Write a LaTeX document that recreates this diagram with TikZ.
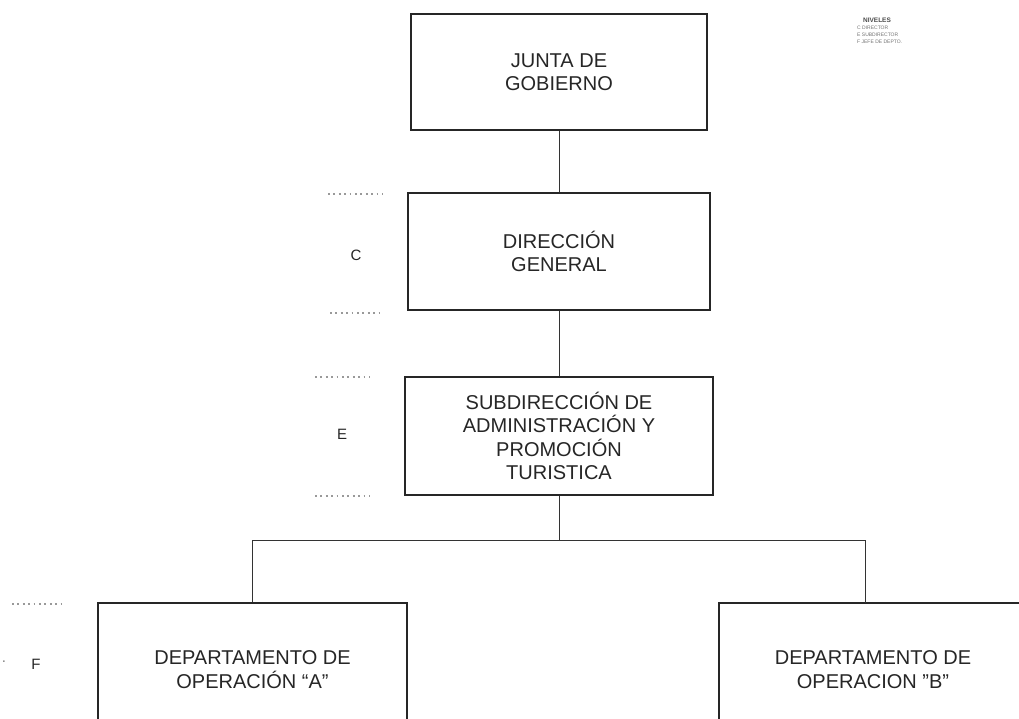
\documentclass[tikz,border=0pt]{standalone}
\usepackage{fontspec}
\setmainfont{Liberation Sans}[Ligatures=Common]
\begin{document}
\begin{tikzpicture}[x=1pt,y=-1pt,
  box/.style={draw=black!85, line width=1.8pt, align=center, inner sep=0pt,
    font=\fontsize{20}{23.5}\selectfont, text=black!85},
  conn/.style={draw=black!80, line width=1pt},
  dotline/.style={draw=black!40, line width=1.3pt, dash pattern=on 1.8pt off 3.6pt},
  lvl/.style={font=\fontsize{15}{17}\selectfont, text=black!85},
  legtitle/.style={font=\fontsize{6.5}{7}\selectfont\bfseries, text=black!70, inner sep=0pt},
  legitem/.style={font=\fontsize{5}{6}\selectfont, text=black!55, inner sep=0pt, anchor=west}]
\useasboundingbox (0,0) rectangle (1019,719);
\fill[white] (0,0) rectangle (1019,719);

% boxes
\node[box, minimum width=296pt, minimum height=116pt] (junta) at (559,72) {JUNTA DE\\GOBIERNO};
\node[box, minimum width=302pt, minimum height=117pt] (dir) at (559,251.5) {DIRECCIÓN\\GENERAL};
\node[box, minimum width=308pt, minimum height=118pt] (sub) at (559,436) {SUBDIRECCIÓN DE\\ADMINISTRACIÓN Y\\PROMOCIÓN\\TURISTICA};
\node[box, minimum width=309pt, minimum height=133pt] (depA) at (252.5,669.5) {DEPARTAMENTO DE\\OPERACIÓN “A”};
\node[box, minimum width=308pt, minimum height=133pt] (depB) at (873,669.5) {DEPARTAMENTO DE\\OPERACION "B"};

% connectors
\coordinate (bus) at (559,540);
\coordinate (bjoin) at (865,603);
\draw[conn] (junta.south) -- (dir.north);
\draw[conn] (dir.south) -- (sub.north);
\draw[conn] (sub.south) -- (bus);
\draw[conn] (bus) -| (depA.north);
\draw[conn] (bus) -| (bjoin);

% level markers
\draw[dotline] (328,194) -- (383,194);
\draw[dotline] (330,313) -- (383,313);
\draw[dotline] (315,377) -- (370,377);
\draw[dotline] (315,496) -- (370,496);
\draw[dotline] (12,604) -- (62,604);
\node[lvl] (lc) at (356,255) {C};
\node[lvl] (le) at (342,434) {E};
\node[lvl] (lf) at (36,664) {F};
\node[lvl, text=black!50] (ldot) at (4,662) {.};

% legend
\node[legtitle] (legt) at (877,20) {NIVELES};
\node[legitem] (l1) at (857,28) {C DIRECTOR};
\node[legitem] (l2) at (857,35) {E SUBDIRECTOR};
\node[legitem] (l3) at (857,42) {F JEFE DE DEPTO.};
\end{tikzpicture}
\end{document}
